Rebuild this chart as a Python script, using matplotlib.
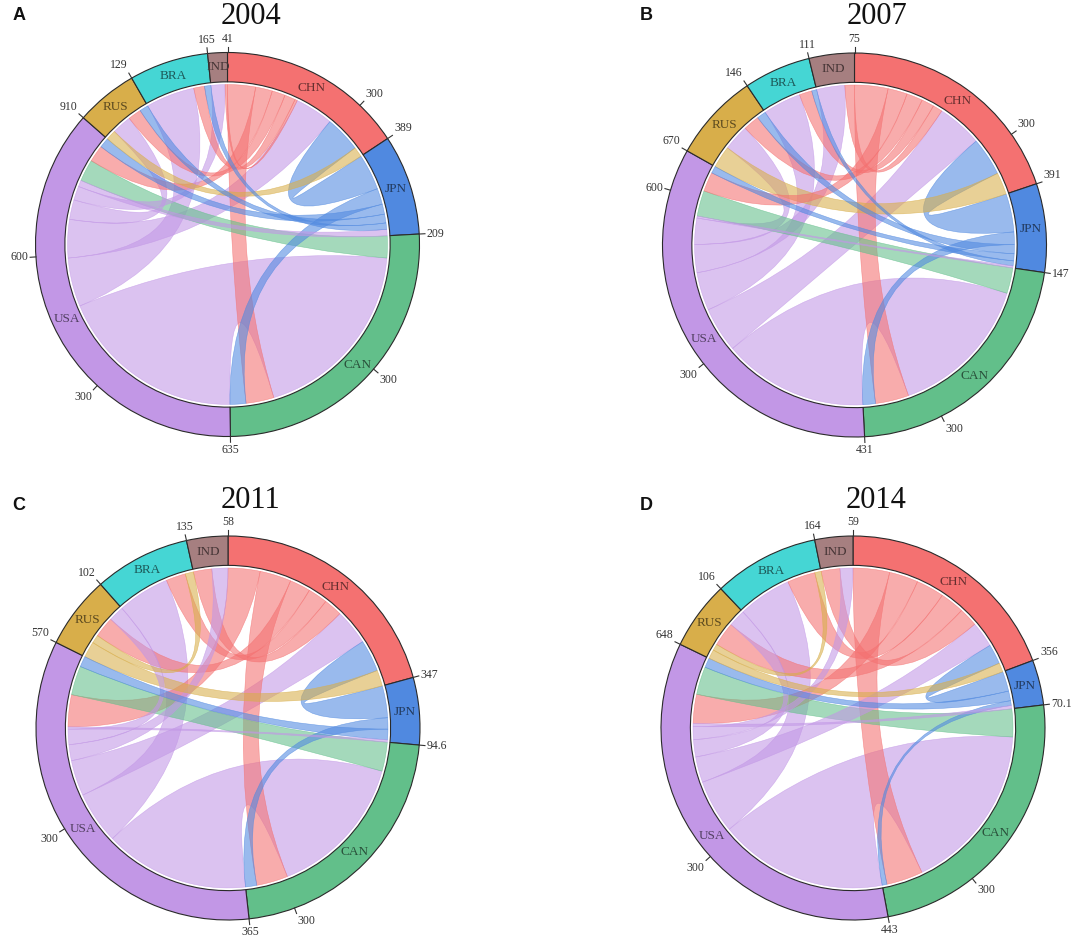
import numpy as np
import matplotlib
matplotlib.use("Agg")
import matplotlib.pyplot as plt
from matplotlib.path import Path
from matplotlib.patches import PathPatch, Wedge
from matplotlib.colors import to_rgb

# ---------------- data ----------------
SECTORS = ["CHN", "JPN", "CAN", "USA", "RUS", "BRA", "IND"]
SECTOR_COLORS = ["#F47171", "#5089E0", "#62BF8A", "#C297E6", "#D8AE4A", "#45D6D4", "#A67F80"]
YEARS = ["2004", "2007", "2011", "2014"]
PANELS = ["A", "B", "C", "D"]

# (exporter, importer, value)
flows_2004 = [
    ("USA", "CAN", 470), ("USA", "CHN", 96), ("USA", "JPN", 16), ("USA", "RUS", 49),
    ("USA", "BRA", 122), ("USA", "IND", 35),
    ("CHN", "CAN", 70), ("CHN", "USA", 42), ("CHN", "RUS", 33), ("CHN", "BRA", 27), ("CHN", "IND", 6),
    ("JPN", "CHN", 90), ("JPN", "CAN", 40), ("JPN", "USA", 25), ("JPN", "RUS", 22), ("JPN", "BRA", 16),
    ("CAN", "USA", 55),
    ("RUS", "CHN", 25),
]
flows_2007 = [
    ("USA", "CAN", 288.5), ("USA", "CHN", 90), ("USA", "JPN", 4), ("USA", "RUS", 52),
    ("USA", "BRA", 76), ("USA", "IND", 56),
    ("CHN", "CAN", 66.5), ("CHN", "USA", 38.5), ("CHN", "RUS", 32), ("CHN", "BRA", 25), ("CHN", "IND", 19),
    ("JPN", "CHN", 76), ("JPN", "CAN", 25), ("JPN", "USA", 14), ("JPN", "RUS", 18), ("JPN", "BRA", 10),
    ("CAN", "USA", 51),
    ("RUS", "CHN", 44),
]
flows_2011 = [
    ("USA", "CAN", 244), ("USA", "CHN", 60.2), ("USA", "JPN", 3.8), ("USA", "RUS", 26),
    ("USA", "BRA", 88), ("USA", "IND", 27),
    ("CHN", "CAN", 53), ("CHN", "USA", 54), ("CHN", "RUS", 35), ("CHN", "BRA", 33), ("CHN", "IND", 31),
    ("JPN", "CHN", 53.8), ("JPN", "CAN", 19), ("JPN", "USA", 18),
    ("CAN", "USA", 49),
    ("RUS", "CHN", 27), ("RUS", "BRA", 14),
]
flows_2014 = [
    ("USA", "CAN", 314), ("USA", "CHN", 47.95), ("USA", "JPN", 6.1), ("USA", "RUS", 32),
    ("USA", "BRA", 99.95), ("USA", "IND", 24),
    ("CHN", "CAN", 68), ("CHN", "USA", 54), ("CHN", "RUS", 45), ("CHN", "BRA", 52.05), ("CHN", "IND", 35),
    ("JPN", "CHN", 37), ("JPN", "CAN", 9), ("JPN", "USA", 18),
    ("CAN", "USA", 52),
    ("RUS", "CHN", 17), ("RUS", "BRA", 12),
]
FLOWS = [flows_2004, flows_2007, flows_2011, flows_2014]
MAJOR_STEP = 300

# ---------------- layout ----------------
W, H = 1072, 947
CENTERS = [(227.5, 244.5), (854.5, 245.0), (228.0, 728.0), (853.0, 728.0)]
LETTER_POS = [(19, 15.5), (646.5, 15.5), (19, 505), (646.5, 505)]
R_PX = 192.0
S = 1.25
R_IN = 0.847
R_LINK = 0.833
SERIF = ["Liberation Serif", "DejaVu Serif"]

fig = plt.figure(figsize=(W / 100, H / 100), dpi=100)
color_of = dict(zip(SECTORS, SECTOR_COLORS))


def fmt(v):
    v = round(v, 1)
    return f"{v:g}"


def layout(flows):
    out = {s: [] for s in SECTORS}
    inc = {s: [] for s in SECTORS}
    for i, (a, b, v) in enumerate(flows):
        out[a].append((v, i))
        inc[b].append((v, i))
    starts, sizes, src_iv, dst_iv = {}, {}, {}, {}
    cur = 0.0
    for s in SECTORS:
        starts[s] = cur
        for v, i in sorted(out[s], key=lambda t: -t[0]):
            src_iv[i] = (cur, cur + v)
            cur += v
        for v, i in sorted(inc[s], key=lambda t: -t[0]):
            dst_iv[i] = (cur, cur + v)
            cur += v
        sizes[s] = cur - starts[s]
    return starts, sizes, cur, src_iv, dst_iv


for k in range(4):
    flows = FLOWS[k]
    cx, cy = CENTERS[k]
    ax = fig.add_axes([(cx - S * R_PX) / W, 1 - (cy + S * R_PX) / H,
                       2 * S * R_PX / W, 2 * S * R_PX / H])
    ax.set_xlim(-S, S)
    ax.set_ylim(-S, S)
    ax.axis("off")

    starts, sizes, T, src_iv, dst_iv = layout(flows)

    def ang(p):
        return np.pi / 2 - 2 * np.pi * p / T

    def pt(p, r):
        a = ang(p)
        return (r * np.cos(a), r * np.sin(a))

    # links: biggest first so thin ones lie on top
    order = sorted(range(len(flows)), key=lambda i: -flows[i][2])
    for i in order:
        a, b, v = flows[i]
        s1, s2 = src_iv[i]
        t1, t2 = dst_iv[i]
        verts, codes = [pt(s1, R_LINK)], [Path.MOVETO]
        for p in np.linspace(s1, s2, 24)[1:]:
            verts.append(pt(p, R_LINK)); codes.append(Path.LINETO)
        verts += [(0, 0), pt(t1, R_LINK)]; codes += [Path.CURVE3, Path.CURVE3]
        for p in np.linspace(t1, t2, 24)[1:]:
            verts.append(pt(p, R_LINK)); codes.append(Path.LINETO)
        verts += [(0, 0), pt(s1, R_LINK)]; codes += [Path.CURVE3, Path.CURVE3]
        verts.append(pt(s1, R_LINK)); codes.append(Path.CLOSEPOLY)
        rgb = to_rgb(color_of[a])
        ax.add_patch(PathPatch(Path(verts, codes), facecolor=(*rgb, 0.58),
                               edgecolor=(*rgb, 0.7), lw=0.4, zorder=2))

    # ring, labels, ticks
    for s in SECTORS:
        st, sz = starts[s], sizes[s]
        th1 = np.degrees(ang(st + sz))
        th2 = np.degrees(ang(st))
        ax.add_patch(Wedge((0, 0), 1.0, th1, th2, width=1 - R_IN,
                           facecolor=color_of[s], edgecolor="#2a2a2a", lw=0.8, zorder=3))
        mid = ang(st + sz / 2)
        rm = (1 + R_IN) / 2
        dark = tuple(c * 0.42 for c in to_rgb(color_of[s]))
        ax.text(rm * np.cos(mid), rm * np.sin(mid), s, ha="center", va="center",
                fontsize=9.5, family=SERIF, color=dark, zorder=4)
        ticks = []
        m = MAJOR_STEP
        while m < sz:
            if (sz - m) / T * 360 >= 12:
                ticks.append(m)
            m += MAJOR_STEP
        ticks.append(sz)
        for tv in ticks:
            a = ang(st + tv)
            ca, sa = np.cos(a), np.sin(a)
            ax.plot([ca, 1.03 * ca], [sa, 1.03 * sa], color="#333333", lw=0.8, zorder=4)
            ha = "left" if ca > 0.3 else ("right" if ca < -0.3 else "center")
            va = "bottom" if sa > 0.3 else ("top" if sa < -0.3 else "center")
            ax.text(1.04 * ca, 1.04 * sa, fmt(tv), ha=ha, va=va, fontsize=8.5,
                    family=SERIF, color="#333333", zorder=4, clip_on=False)

    fig.text((cx + 23) / W, 1 - (cy - 228) / H, YEARS[k], ha="center", va="center",
             fontsize=22, family=SERIF, color="#111111")
    lx, ly = LETTER_POS[k]
    fig.text(lx / W, 1 - ly / H, PANELS[k], ha="center", va="center", fontsize=13,
             fontweight="bold", family=["Liberation Sans", "DejaVu Sans"], color="#111111")

fig.savefig("out.png", dpi=100, facecolor="white")
